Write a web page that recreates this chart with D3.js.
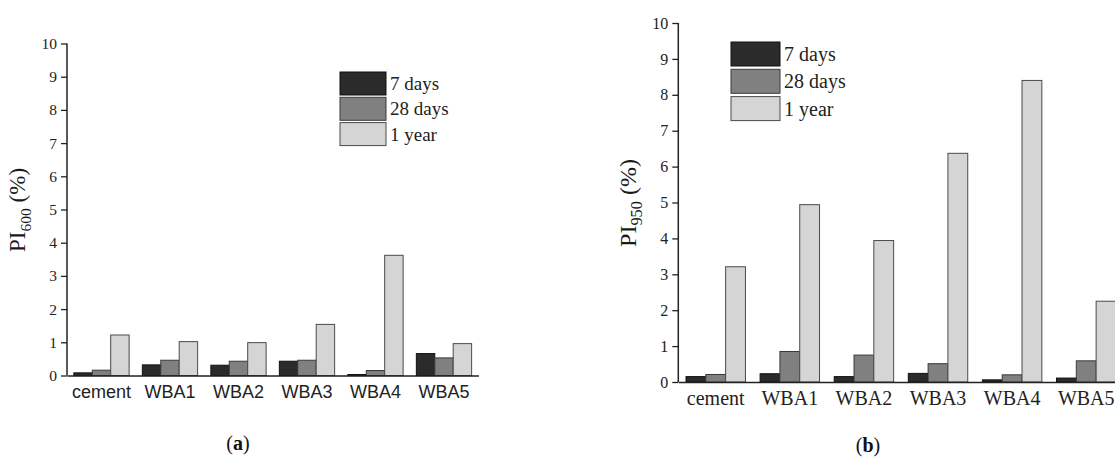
<!DOCTYPE html>
<html>
<head>
<meta charset="utf-8">
<script src="https://cdn.jsdelivr.net/npm/d3@7"></script>
<style>
  html, body { margin: 0; padding: 0; background: #fff; }
  svg { display: block; }
</style>
</head>
<body>
<svg id="chart" width="1115" height="463"></svg>
<script>
// ---- Data ----
const categories = ["cement", "WBA1", "WBA2", "WBA3", "WBA4", "WBA5"];
const seriesNames = ["7 days", "28 days", "1 year"];
const yTickValues = [0, 1, 2, 3, 4, 5, 6, 7, 8, 9, 10];

// Panel (a): PI600 (%)
const pi600_7days  = [0.08, 0.32, 0.31, 0.43, 0.03, 0.66];
const pi600_28days = [0.16, 0.46, 0.43, 0.46, 0.15, 0.53];
const pi600_1year  = [1.22, 1.02, 0.99, 1.54, 3.62, 0.96];

// Panel (b): PI950 (%)
const pi950_7days  = [0.15, 0.23, 0.15, 0.24, 0.06, 0.11];
const pi950_28days = [0.21, 0.85, 0.75, 0.51, 0.20, 0.59];
const pi950_1year  = [3.21, 4.94, 3.94, 6.37, 8.40, 2.25];

const fills = ["#2b2b2b", "#808080", "#d5d5d5"];
const strokes = ["#111111", "#3a3a3a", "#4a4a4a"];

const svg = d3.select("#chart");

function drawPanel(cfg) {
  const g = svg.append("g");
  const series = [cfg.s7, cfg.s28, cfg.s1y];
  const n = categories.length;
  const pi = cfg.paddingInner, po = cfg.paddingOuter;
  const x = d3.scaleBand()
    .domain(categories)
    .range([cfg.x0, cfg.x0 + cfg.step * (n - pi + 2 * po)])
    .paddingInner(pi).paddingOuter(po);
  const xs = d3.scaleBand().domain(seriesNames).range([0, x.bandwidth()]);
  const y = d3.scaleLinear().domain([0, 10]).range([cfg.y0, cfg.y10]);

  // bars
  seriesNames.forEach((s, si) => {
    g.append("g").selectAll("rect")
      .data(categories.map((c, i) => ({ c, v: series[si][i] })))
      .join("rect")
      .attr("x", d => x(d.c) + xs(s))
      .attr("y", d => y(d.v))
      .attr("width", xs.bandwidth())
      .attr("height", d => y(0) - y(d.v))
      .attr("fill", fills[si])
      .attr("stroke", strokes[si])
      .attr("stroke-width", 1);
  });

  // y axis
  const yAxis = d3.axisLeft(y).tickValues(yTickValues).tickSize(6).tickPadding(4).tickFormat(d3.format("d"));
  const ya = g.append("g").attr("transform", `translate(${cfg.x0},0)`).call(yAxis)
    .attr("font-family", "'Liberation Serif', 'Times New Roman', serif")
    .attr("font-size", cfg.tickFont);
  ya.select(".domain").attr("stroke", "#222").attr("stroke-width", 1.5).attr("d", `M0,${cfg.y0}V${cfg.y10}`);
  ya.selectAll(".tick line").attr("stroke", "#222").attr("stroke-width", 1.3);
  ya.selectAll(".tick text").attr("fill", "#222");

  // x axis
  const xAxis = d3.axisBottom(x).tickSize(0).tickPadding(cfg.xLabelPad);
  const xa = g.append("g").attr("transform", `translate(0,${cfg.y0})`).call(xAxis)
    .attr("font-family", cfg.xFont)
    .attr("font-size", cfg.xFontSize);
  xa.select(".domain").attr("stroke", "#222").attr("stroke-width", 1.5);
  xa.selectAll(".tick text").attr("fill", "#222");

  // y label
  const yl = g.append("text")
    .attr("transform", `translate(${cfg.ylx},${cfg.yly}) rotate(-90)`)
    .attr("text-anchor", "middle")
    .attr("font-family", "'Liberation Serif', 'Times New Roman', serif")
    .attr("font-size", cfg.ylFont)
    .attr("fill", "#1a1a1a");
  yl.append("tspan").text("PI");
  yl.append("tspan").attr("font-size", cfg.ylFont * 0.68).attr("dy", cfg.ylFont * 0.25).text(cfg.sub);
  yl.append("tspan").attr("dy", -cfg.ylFont * 0.25).text(" (%)");

  // legend
  const lg = g.append("g").attr("transform", `translate(${cfg.lx},${cfg.ly})`);
  seriesNames.forEach((s, si) => {
    lg.append("rect")
      .attr("x", 0).attr("y", si * cfg.lStep)
      .attr("width", cfg.lw).attr("height", cfg.lh)
      .attr("fill", fills[si]).attr("stroke", strokes[si]).attr("stroke-width", 1);
    lg.append("text")
      .attr("x", cfg.lw + 4).attr("y", si * cfg.lStep + cfg.lh / 2)
      .attr("dy", "0.35em")
      .attr("font-family", "'Liberation Serif', 'Times New Roman', serif")
      .attr("font-size", cfg.lFont)
      .attr("fill", "#222")
      .text(s);
  });

  // caption
  const cap = svg.append("text")
    .attr("x", cfg.capx).attr("y", cfg.capy)
    .attr("text-anchor", "middle")
    .attr("font-family", "'Liberation Serif', 'Times New Roman', serif")
    .attr("font-size", 20)
    .attr("fill", "#111");
  cap.append("tspan").text("(");
  cap.append("tspan").attr("font-weight", "bold").text(cfg.letter);
  cap.append("tspan").text(")");
}

drawPanel({
  s7: pi600_7days, s28: pi600_28days, s1y: pi600_1year,
  x0: 67, step: 68.5, paddingInner: 0.193, paddingOuter: 0.1,
  y0: 375.5, y10: 43.5,
  tickFont: 15.5, xFont: "'Liberation Sans', Arial, sans-serif", xFontSize: 18, xLabelPad: 10,
  ylx: 25, yly: 210, ylFont: 23, sub: "600",
  lx: 340, ly: 72, lw: 46, lh: 23, lStep: 25.3, lFont: 19,
  capx: 238, capy: 450, letter: "a"
});

drawPanel({
  s7: pi950_7days, s28: pi950_28days, s1y: pi950_1year,
  x0: 678.3, step: 74.1, paddingInner: 0.198, paddingOuter: 0.104,
  y0: 382, y10: 23,
  tickFont: 16, xFont: "'Liberation Serif', 'Times New Roman', serif", xFontSize: 20, xLabelPad: 9,
  ylx: 636, yly: 203, ylFont: 24, sub: "950",
  lx: 731, ly: 42, lw: 49, lh: 24, lStep: 27.3, lFont: 20,
  capx: 868, capy: 452, letter: "b"
});
</script>
</body>
</html>
